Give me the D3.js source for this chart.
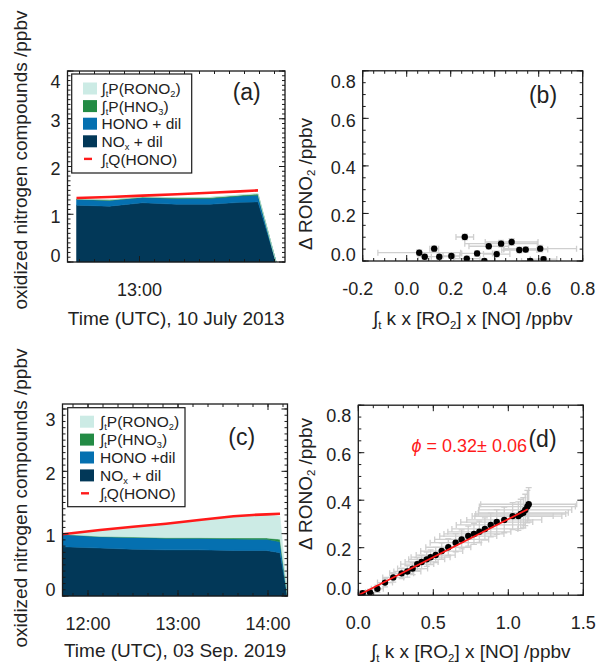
<!DOCTYPE html>
<html><head><meta charset="utf-8">
<script src="https://cdn.jsdelivr.net/npm/d3@7"></script>
<style>
body{margin:0;background:#fff;}
svg{display:block;}
text{font-family:"Liberation Sans",Arial,Helvetica,sans-serif;fill:#222;}
</style></head><body>
<svg id="chart" width="598" height="665"></svg>
<script>
// ---------------- DATA ----------------
const layerKeys = ["nox","hono","hno3","rono2"];
const layerColors = ["#023858","#0570b0","#238b45","#ccebe5"];
const qColor = "#ff1a1a";

// Panel (a): 10 July 2013
const timesA = ["12:18","12:40","13:02","13:25","13:47","14:07","14:19","14:31"];
const noxA   = [1.19,1.17,1.24,1.21,1.21,1.25,1.26,0];
const honoA  = [0.12,0.12,0.11,0.12,0.12,0.13,0.14,0];
const hno3A  = [0.01,0.01,0.01,0.015,0.02,0.02,0.025,0];
const rono2A = [0.005,0.005,0.005,0.005,0.005,0.01,0.01,0];
const qTimesA = ["12:18","12:40","13:02","13:25","13:47","14:07","14:19"];
const qHonoA = [1.34,1.36,1.39,1.42,1.45,1.48,1.50];
const xTicksA = ["13:00"];

// Panel (c): 03 Sep. 2019
const timesC = ["11:43","12:08","12:30","12:52","13:14","13:37","13:50","13:59","14:08","14:13"];
const noxC   = [0.79,0.77,0.75,0.74,0.74,0.73,0.73,0.73,0.695,0];
const honoC  = [0.20,0.18,0.19,0.185,0.185,0.185,0.18,0.18,0.175,0];
const hno3C  = [0.0,0.005,0.005,0.01,0.01,0.015,0.02,0.02,0.04,0];
const rono2C = [0.0,0.1,0.16,0.22,0.275,0.34,0.365,0.375,0.37,0];
const qTimesC = ["11:43","12:08","12:30","12:52","13:14","13:37","13:50","13:59","14:08"];
const qHonoC = [0.99,1.06,1.11,1.16,1.22,1.28,1.30,1.31,1.32];
const xTicksC = ["12:00","13:00","14:00"];

// Panel (b): scatter 2013
const bX    = [0.057,0.082,0.125,0.148,0.203,0.264,0.273,0.320,0.353,0.373,0.409,0.429,0.477,0.512,0.541,0.562,0.607,0.622];
const bY    = [0.035,0.018,0.052,0.018,0.021,0.101,0.010,0.032,0.000,0.062,0.029,0.073,0.080,0.046,0.048,0.000,0.052,0.008];
const bXerr = [0.188,0.03,0.02,0.07,0.038,0.04,0.06,0.07,0.05,0.09,0.06,0.165,0.12,0.08,0.10,0.04,0.165,0.06];
const bYerr = [0.012,0.01,0.012,0.01,0.01,0.012,0.01,0.012,0.01,0.012,0.012,0.014,0.014,0.012,0.012,0.01,0.014,0.01];

// Panel (d): scatter 2019
const dX = [0.029,0.078,0.127,0.178,0.233,0.289,0.327,0.362,0.393,0.422,0.456,0.482,0.516,0.556,0.600,0.649,0.689,0.733,0.771,0.807,0.844,0.883,0.923,0.973,1.029,1.067,1.083,1.100,1.113,1.127,1.136];
const dY = [0.008,0.012,0.027,0.053,0.075,0.092,0.100,0.112,0.131,0.140,0.151,0.160,0.169,0.186,0.202,0.221,0.235,0.249,0.258,0.267,0.279,0.296,0.308,0.317,0.333,0.333,0.342,0.347,0.359,0.373,0.383];
const dXerr = [0.02,0.03,0.04,0.05,0.07,0.08,0.09,0.10,0.11,0.11,0.12,0.13,0.13,0.14,0.15,0.17,0.18,0.19,0.20,0.21,0.22,0.23,0.24,0.25,0.27,0.29,0.30,0.30,0.31,0.32,0.32];
const dYerr = [0.010,0.012,0.015,0.018,0.020,0.022,0.024,0.025,0.027,0.028,0.030,0.031,0.032,0.034,0.036,0.038,0.040,0.042,0.044,0.045,0.047,0.050,0.052,0.054,0.057,0.060,0.062,0.064,0.066,0.068,0.070];
const phi = 0.32, phiErr = 0.06;
const fitRange = [0, 1.13];

// ---------------- HELPERS ----------------
const svg = d3.select("#chart");
const toMin = t => { const [h,m] = t.split(":").map(Number); return h*60+m; };
const FS = 18;

function rich(textSel, parts, fs) {
  let shift = 0;
  parts.forEach(p => {
    const isSub = Array.isArray(p);
    const target = isSub ? fs*0.2 : 0;
    const ts = textSel.append("tspan").attr("dy", target - shift).text(isSub ? p[0] : p);
    if (isSub) ts.attr("font-size", fs*0.6);
    shift = target;
  });
}

function drawFrame(g, x, y, o) {
  const [x0,x1] = x.range(), [y0,y1] = y.range();
  const L = (a,b,c,d,w) => g.append("line").attr("x1",a).attr("y1",b).attr("x2",c).attr("y2",d)
      .attr("stroke","#1a1a1a").attr("stroke-width",w||1);
  o.xMinor.forEach(v => { const p = x(v); L(p,y0,p,y0-3); L(p,y1,p,y1+3); });
  o.xMajor.forEach(v => { const p = x(v); L(p,y0,p,y0-6); L(p,y1,p,y1+6); });
  o.yMinor.forEach(v => { const p = y(v); L(x0,p,x0+3,p); L(x1,p,x1-3,p); });
  o.yMajor.forEach(v => { const p = y(v); L(x0,p,x0+6,p); L(x1,p,x1-6,p); });
  g.append("rect").attr("x",x0).attr("y",y1).attr("width",x1-x0).attr("height",y0-y1)
    .attr("fill","none").attr("stroke","#1a1a1a").attr("stroke-width",1.3);
  o.xMajor.forEach((v,i) => {
    g.append("text").attr("x", x(v) + (o.xShift ? o.xShift(v) : 0)).attr("y", y0+34).attr("text-anchor","middle")
      .attr("font-size",FS).text(o.xFmt(v, i));
  });
  o.yMajor.forEach((v,i) => {
    let off = 2;
    if (i === 0) off = -6.5;
    if (i === o.yMajor.length-1) off = 10.5;
    g.append("text").attr("x", x0-7).attr("y", y(v)+off+6.4).attr("text-anchor","end")
      .attr("font-size",FS).text(o.yFmt(v));
  });
}

function range(a,b,s){ const r=[]; for(let v=a; v<=b+1e-9; v+=s) r.push(+v.toFixed(6)); return r; }

// ---------------- STACKED PANELS ----------------
function stackedPanel(cfg) {
  const g = svg.append("g");
  const x = d3.scaleLinear().domain(cfg.xDomain).range(cfg.xRange);
  const y = d3.scaleLinear().domain(cfg.yDomain).range(cfg.yRange);
  const rows = cfg.times.map((t,i) => ({t: toMin(t), nox: cfg.nox[i], hono: cfg.hono[i], hno3: cfg.hno3[i], rono2: cfg.rono2[i]}));
  const series = d3.stack().keys(layerKeys)(rows);
  const area = d3.area().x(d => x(d.data.t)).y0(d => y(d[0])).y1(d => y(d[1]));
  g.selectAll("path.layer").data(series).join("path").attr("class","layer")
    .attr("d", area).attr("fill", (d,i) => layerColors[i]).attr("stroke", (d,i) => layerColors[i]).attr("stroke-width",0.5);
  const line = d3.line().x((d) => x(toMin(d[0]))).y(d => y(d[1]));
  g.append("path").datum(cfg.qTimes.map((t,i) => [t, cfg.q[i]])).attr("d", line)
    .attr("fill","none").attr("stroke", qColor).attr("stroke-width",2.6);

  const xMaj = cfg.xTicks.map(toMin);
  const [d0,d1] = cfg.xDomain;
  const xMin = range(Math.ceil(d0/10)*10, d1, 10);
  drawFrame(g, x, y, {
    xMajor: xMaj, xMinor: xMin,
    yMajor: range(0, cfg.yTop, 1), yMinor: range(0, cfg.yDomain[1], 0.1),
    xFmt: (v,i) => cfg.xTicks[i], yFmt: v => d3.format("d")(v)
  });

  const lg = g.append("g");
  const [bx,by,bw,bh] = cfg.legendBox;
  lg.append("rect").attr("x",bx).attr("y",by).attr("width",bw).attr("height",bh)
    .attr("fill","#fff").attr("stroke","#1a1a1a").attr("stroke-width",1.2);
  const items = [
    {c: layerColors[3], parts: ["∫",["t"],"P(RONO",["2"],")"]},
    {c: layerColors[2], parts: ["∫",["t"],"P(HNO",["3"],")"]},
    {c: layerColors[1], parts: [cfg.honoLabel]},
    {c: layerColors[0], parts: ["NO",["x"]," + dil"]},
    {c: null, parts: ["∫",["t"],"Q(HONO)"]}
  ];
  const lfs = 15.5;
  items.forEach((it,i) => {
    const cy = cfg.legendRow0 + i*cfg.legendStep;
    if (it.c) lg.append("rect").attr("x",cfg.swX).attr("y",cy-6).attr("width",14).attr("height",12).attr("fill",it.c);
    else lg.append("line").attr("x1",cfg.swX+1).attr("x2",cfg.swX+9).attr("y1",cy).attr("y2",cy).attr("stroke",qColor).attr("stroke-width",2.4);
    const t = lg.append("text").attr("x",cfg.txX).attr("y",cy+5.6).attr("font-size",lfs);
    rich(t, it.parts, lfs);
  });
  g.append("text").attr("x",cfg.tag[0]).attr("y",cfg.tag[1]).attr("text-anchor","middle").attr("font-size",23).text(cfg.tagText);
  const [x0,x1] = x.range();
  g.append("text").attr("x",(x0+x1)/2).attr("y",cfg.xTitleY).attr("text-anchor","middle").attr("font-size",19).text(cfg.xTitle);
  g.append("text").attr("transform",`translate(27,${cfg.yTitleCY}) rotate(-90)`).attr("text-anchor","middle")
    .attr("font-size",19).text("oxidized nitrogen compounds /ppbv");
}

stackedPanel({
  times: timesA, nox: noxA, hono: honoA, hno3: hno3A, rono2: rono2A, qTimes: qTimesA, q: qHonoA,
  xDomain: [732, 877], xRange: [67.5, 285], yDomain: [0, 4], yRange: [262, 71], yTop: 4,
  xTicks: xTicksA, honoLabel: "HONO + dil",
  legendBox: [71.7, 74, 120, 99], legendRow0: 88.5, legendStep: 17.6, swX: 83, txX: 101.5,
  tag: [246.7, 99.5], tagText: "(a)", xTitle: "Time (UTC), 10 July 2013", xTitleY: 325, yTitleCY: 160
});
stackedPanel({
  times: timesC, nox: noxC, hono: honoC, hno3: hno3C, rono2: rono2C, qTimes: qTimesC, q: qHonoC,
  xDomain: [703, 853], xRange: [62.5, 287.5], yDomain: [0, 3.08], yRange: [596, 404], yTop: 3,
  xTicks: xTicksC, honoLabel: "HONO +dil",
  legendBox: [67.7, 407.7, 117.3, 99], legendRow0: 421.7, legendStep: 17.9, swX: 80, txX: 100,
  tag: [241.7, 445], tagText: "(c)", xTitle: "Time (UTC), 03 Sep. 2019", xTitleY: 657, yTitleCY: 498
});

// ---------------- SCATTER PANELS ----------------
function scatterPanel(cfg) {
  const g = svg.append("g");
  const x = d3.scaleLinear().domain(cfg.xDomain).range(cfg.xRange);
  const y = d3.scaleLinear().domain([0, 0.8]).range(cfg.yRange);
  const pts = cfg.X.map((v,i) => ({x: v, y: cfg.Y[i], ex: cfg.Xerr[i], ey: cfg.Yerr[i]}));
  const clipId = "clip" + cfg.tagText.replace(/\W/g,"");
  g.append("clipPath").attr("id",clipId).append("rect")
    .attr("x",cfg.xRange[0]).attr("y",cfg.yRange[1]).attr("width",cfg.xRange[1]-cfg.xRange[0]).attr("height",cfg.yRange[0]-cfg.yRange[1]);
  const eg = g.append("g").attr("stroke","#cfcfcf").attr("stroke-width",1.3).attr("fill","none")
    .attr("clip-path",`url(#${clipId})`);
  pts.forEach(p => {
    const cx = x(p.x), cy = y(p.y);
    const xl = x(p.x-p.ex), xr = x(p.x+p.ex), yt = y(p.y+p.ey), yb = y(p.y-p.ey);
    eg.append("line").attr("x1",xl).attr("x2",xr).attr("y1",cy).attr("y2",cy);
    eg.append("line").attr("x1",xl).attr("x2",xl).attr("y1",cy-3).attr("y2",cy+3);
    eg.append("line").attr("x1",xr).attr("x2",xr).attr("y1",cy-3).attr("y2",cy+3);
    eg.append("line").attr("x1",cx).attr("x2",cx).attr("y1",yt).attr("y2",yb);
    eg.append("line").attr("x1",cx-3).attr("x2",cx+3).attr("y1",yt).attr("y2",yt);
    eg.append("line").attr("x1",cx-3).attr("x2",cx+3).attr("y1",yb).attr("y2",yb);
  });
  g.append("g").attr("clip-path",`url(#${clipId})`).selectAll("circle").data(pts).join("circle")
    .attr("cx", d => x(d.x)).attr("cy", d => y(d.y)).attr("r", 3.2).attr("fill","#000");
  if (cfg.fit) {
    g.append("line").attr("x1",x(cfg.fit.range[0])).attr("y1",y(cfg.fit.slope*cfg.fit.range[0]))
      .attr("x2",x(cfg.fit.range[1])).attr("y2",y(cfg.fit.slope*cfg.fit.range[1]))
      .attr("stroke",qColor).attr("stroke-width",1.8);
    const t = g.append("text").attr("x",527).attr("y",452).attr("text-anchor","end").attr("font-size",18)
      .style("fill", qColor);
    t.append("tspan").attr("font-style","italic").text("ϕ");
    t.append("tspan").text(" =  " + phi.toFixed(2) + "± " + phiErr.toFixed(2));
  }
  drawFrame(g, x, y, {
    xMajor: cfg.xMajor, xMinor: cfg.xMinor,
    yMajor: range(0, 0.8, 0.2), yMinor: range(0, 0.8, 0.05),
    xFmt: v => d3.format(".1f")(v).replace("−","-"), yFmt: v => d3.format(".1f")(v),
    xShift: v => (v < 0 ? -5 : 0)
  });
  g.append("text").attr("x",cfg.tag[0]).attr("y",cfg.tag[1]).attr("text-anchor","middle").attr("font-size",23).text(cfg.tagText);
  const [x0,x1] = x.range();
  const xt = g.append("text").attr("x",(x0+x1)/2).attr("y",cfg.xTitleY).attr("text-anchor","middle").attr("font-size",19);
  rich(xt, ["∫",["t"]," k x [RO",["2"],"] x [NO] /ppbv"], 19);
  const yt = g.append("text").attr("transform",`translate(${cfg.yTitleX},${cfg.yTitleCY}) rotate(-90)`).attr("text-anchor","middle").attr("font-size",19);
  rich(yt, ["Δ RONO",["2"]," /ppbv"], 19);
}

scatterPanel({
  X: bX, Y: bY, Xerr: bXerr, Yerr: bYerr, xDomain: [-0.2, 0.8], xRange: [362.7, 582.7], yRange: [261, 70.8],
  xMajor: range(-0.2, 0.8, 0.2), xMinor: range(-0.2, 0.8, 0.05),
  tag: [543, 102.7], tagText: "(b)", xTitleY: 325, yTitleX: 311.5, yTitleCY: 184
});
scatterPanel({
  X: dX, Y: dY, Xerr: dXerr, Yerr: dYerr, xDomain: [0, 1.5], xRange: [358.3, 583.3], yRange: [595.2, 405.2],
  xMajor: range(0, 1.5, 0.5), xMinor: range(0, 1.5, 0.1),
  fit: {slope: phi, range: fitRange},
  tag: [542.5, 447.3], tagText: "(d)", xTitleY: 658, yTitleX: 311.5, yTitleCY: 484
});
</script>
</body></html>
